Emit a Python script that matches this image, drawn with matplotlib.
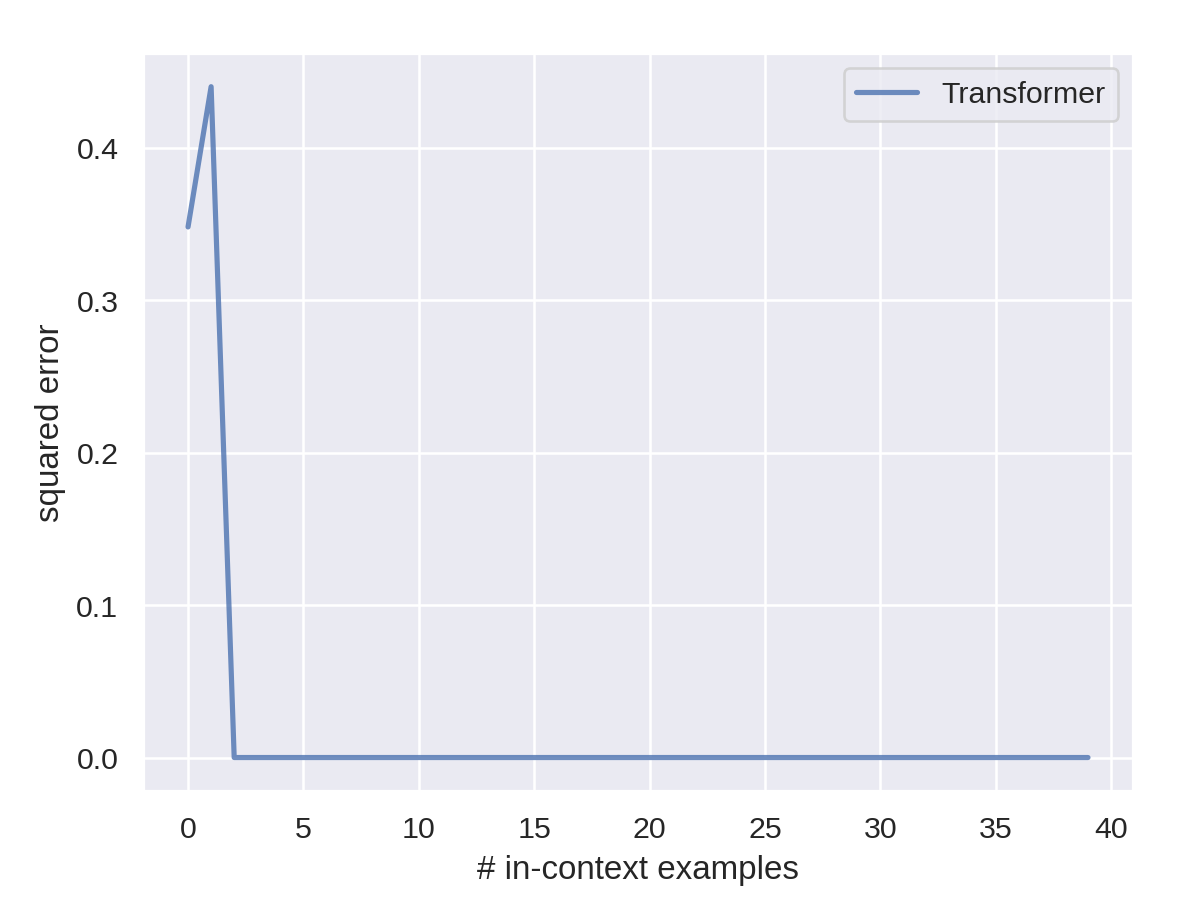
import numpy as np
import matplotlib
matplotlib.use("Agg")
import matplotlib.pyplot as plt
import seaborn as sns

sns.set_theme(style="darkgrid", font_scale=1.07)
plt.rcParams['font.family'] = ['Liberation Sans', 'DejaVu Sans']

n_examples = list(range(40))
squared_error = [0.348, 0.44] + [0.0] * 38
series_label = "Transformer"

fig, ax = plt.subplots(figsize=(6.4, 4.82), dpi=186.25)
fig.subplots_adjust(left=0.1200, right=0.9505, top=0.9400, bottom=0.1180)

ax.plot(n_examples, squared_error, lw=2, color=sns.color_palette()[0], alpha=0.8, label=series_label)
ax.set_xlabel("# in-context examples")
ax.set_ylabel("squared error")
ax.legend(loc="upper right")

fig.savefig("out.png", dpi=186.25)
